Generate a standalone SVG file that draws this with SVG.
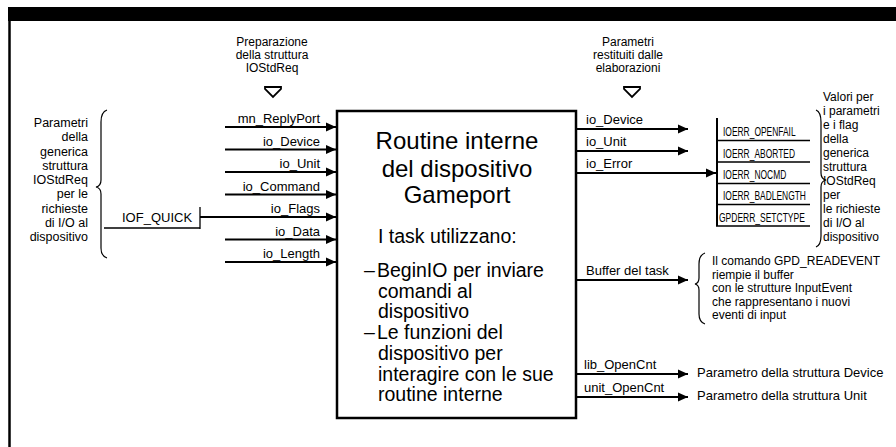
<svg xmlns="http://www.w3.org/2000/svg" width="896" height="447" viewBox="0 0 896 447">
<defs>
<marker id="ah" markerUnits="userSpaceOnUse" markerWidth="11" markerHeight="10" refX="10" refY="5" orient="auto"><path d="M0,0.5 L10,5 L0,9.5 z" fill="#000"/></marker>
<style>
text{font-family:"Liberation Sans",Arial,sans-serif;fill:#000}
.s{font-size:13px}
.h{font-size:12px}
.l{font-size:12.5px}
.r{font-size:12px}
.t{font-size:24px}
.b{font-size:19.5px}
.c{font-size:12.5px}
.e{text-anchor:end}
.m{text-anchor:middle}
.ln{stroke:#000;stroke-width:2;fill:none}
.th{stroke:#000;stroke-width:1.3;fill:none}
.br{stroke:#000;stroke-width:1.2;fill:none}
.ha{fill:#fff;stroke:#000;stroke-width:1.8}
</style>
</defs>
<rect width="896" height="447" fill="#fff"/>
<g id="frame">
<rect x="8" y="7" width="888" height="14" fill="#000"/>
<line x1="9.5" y1="20" x2="9.5" y2="447" stroke="#000" stroke-width="2.5"/>
</g>

<g id="header-left">
<text class="h m" x="272" y="46">Preparazione</text>
<text class="h m" x="272" y="59">della struttura</text>
<text class="h m" x="272" y="72">IOStdReq</text>
<path class="ha" d="M265,87 L281,87 L281,89 L273,97 L265,89 Z"/>
</g>
<g id="header-right">
<text class="h m" x="628" y="46">Parametri</text>
<text class="h m" x="628" y="59">restituiti dalle</text>
<text class="h m" x="628" y="72">elaborazioni</text>
<path class="ha" d="M624,87 L640,87 L640,89 L632,97 L624,89 Z"/>
</g>

<g id="left-note">
<text class="l e" x="88" y="127">Parametri</text>
<text class="l e" x="88" y="141">della</text>
<text class="l e" x="88" y="155.5">generica</text>
<text class="l e" x="88" y="170">struttura</text>
<text class="l e" x="88" y="184">IOStdReq</text>
<text class="l e" x="88" y="198">per le</text>
<text class="l e" x="88" y="213">richieste</text>
<text class="l e" x="88" y="227">di I/O al</text>
<text class="l e" x="88" y="241">dispositivo</text>
<path class="br" d="M107,110 Q101,112 101,122 L101,180 Q101,186 96,187 Q101,188 101,194 L101,248 Q101,256 107,258"/>
</g>

<g id="iof-quick">
<text class="s" x="122" y="222">IOF_QUICK</text>
<path class="th" d="M104,228 L200,228 M200,207 L200,229"/>
</g>

<g id="routine">
<rect x="337" y="111" width="239" height="307" fill="#fff" stroke="#000" stroke-width="2.5"/>
<text class="t m" x="457" y="149">Routine interne</text>
<text class="t m" x="457" y="177">del dispositivo</text>
<text class="t m" x="457" y="203">Gameport</text>
<text class="b" x="378" y="243">I task utilizzano:</text>
<text class="b" y="277"><tspan x="364">–</tspan><tspan x="377">BeginIO per inviare</tspan></text>
<text class="b" x="378" y="298">comandi al</text>
<text class="b" x="378" y="318">dispositivo</text>
<text class="b" y="339"><tspan x="364">–</tspan><tspan x="377">Le funzioni del</tspan></text>
<text class="b" x="378" y="360">dispositivo per</text>
<text class="b" x="378" y="381">interagire con le sue</text>
<text class="b" x="378" y="401">routine interne</text>
</g>

<g id="error-table">
<path class="ln" d="M717,118 L717,226"/>
<path class="th" d="M717,140.5 L810,140.5 M717,162 L810,162 M717,183.5 L810,183.5 M717,204.5 L810,204.5 M716,226 L810,226"/>
<text class="c" transform="translate(723,136) scale(0.675,1)">IOERR_OPENFAIL</text>
<text class="c" transform="translate(723,157.5) scale(0.675,1)">IOERR_ABORTED</text>
<text class="c" transform="translate(723,179) scale(0.675,1)">IOERR_NOCMD</text>
<text class="c" transform="translate(723,200) scale(0.675,1)">IOERR_BADLENGTH</text>
<text class="c" transform="translate(719,221.5) scale(0.68,1)">GPDERR_SETCTYPE</text>
</g>

<g id="right-note">
<path class="br" d="M816,110 Q821,112 821,122 L821,173 Q821,179 826,180 Q821,181 821,187 L821,236 Q821,245 816,247"/>
<text class="r" x="823" y="101">Valori per</text>
<text class="r" x="823" y="115">i parametri</text>
<text class="r" x="823" y="129">e i flag</text>
<text class="r" x="823" y="143">della</text>
<text class="r" x="823" y="157">generica</text>
<text class="r" x="823" y="171">struttura</text>
<text class="r" x="823" y="185">IOStdReq</text>
<text class="r" x="823" y="199">per</text>
<text class="r" x="823" y="213">le richieste</text>
<text class="r" x="823" y="227">di I/O al</text>
<text class="r" x="823" y="241">dispositivo</text>
</g>

<g id="readevent-note">
<path class="br" d="M705,253 Q699,255 699,264 L699,278 Q699,283 695,284 Q699,285 699,290 L699,314 Q699,322 705,324"/>
<text class="r" x="712" y="265">Il comando GPD_READEVENT</text>
<text class="r" x="712" y="278.5">riempie il buffer</text>
<text class="r" x="712" y="292">con le strutture InputEvent</text>
<text class="r" x="712" y="305.5">che rappresentano i nuovi</text>
<text class="r" x="712" y="319">eventi di input</text>
</g>

<g id="device-notes">
<text class="s" x="697" y="377">Parametro della struttura Device</text>
<text class="s" x="697" y="400">Parametro della struttura Unit</text>
</g>

<g id="connectors">
<line class="ln" x1="225" y1="127" x2="336" y2="127" marker-end="url(#ah)"/>
<line class="ln" x1="225" y1="149.5" x2="336" y2="149.5" marker-end="url(#ah)"/>
<line class="ln" x1="225" y1="172" x2="336" y2="172" marker-end="url(#ah)"/>
<line class="ln" x1="225" y1="194.5" x2="336" y2="194.5" marker-end="url(#ah)"/>
<line class="ln" x1="200" y1="217" x2="336" y2="217" marker-end="url(#ah)"/>
<line class="ln" x1="225" y1="239.5" x2="336" y2="239.5" marker-end="url(#ah)"/>
<line class="ln" x1="225" y1="262" x2="336" y2="262" marker-end="url(#ah)"/>
<line class="ln" x1="577" y1="129" x2="688" y2="129" marker-end="url(#ah)"/>
<line class="ln" x1="577" y1="151" x2="688" y2="151" marker-end="url(#ah)"/>
<line class="ln" x1="577" y1="173" x2="716" y2="173" marker-end="url(#ah)"/>
<line class="ln" x1="577" y1="280" x2="688" y2="280" marker-end="url(#ah)"/>
<line class="ln" x1="577" y1="374" x2="688" y2="374" marker-end="url(#ah)"/>
<line class="ln" x1="577" y1="397" x2="688" y2="397" marker-end="url(#ah)"/>
</g>

<g id="labels">
<text class="s e" x="320" y="123">mn_ReplyPort</text>
<text class="s e" x="320" y="145.5">io_Device</text>
<text class="s e" x="320" y="168">io_Unit</text>
<text class="s e" x="320" y="190.5">io_Command</text>
<text class="s e" x="320" y="213">io_Flags</text>
<text class="s e" x="320" y="235.5">io_Data</text>
<text class="s e" x="320" y="258">io_Length</text>
<text class="s" x="586" y="124">io_Device</text>
<text class="s" x="586" y="146">io_Unit</text>
<text class="s" x="586" y="168">io_Error</text>
<text class="s" x="586" y="275">Buffer del task</text>
<text class="s" x="584" y="369">lib_OpenCnt</text>
<text class="s" x="584" y="392">unit_OpenCnt</text>
</g>
</svg>
